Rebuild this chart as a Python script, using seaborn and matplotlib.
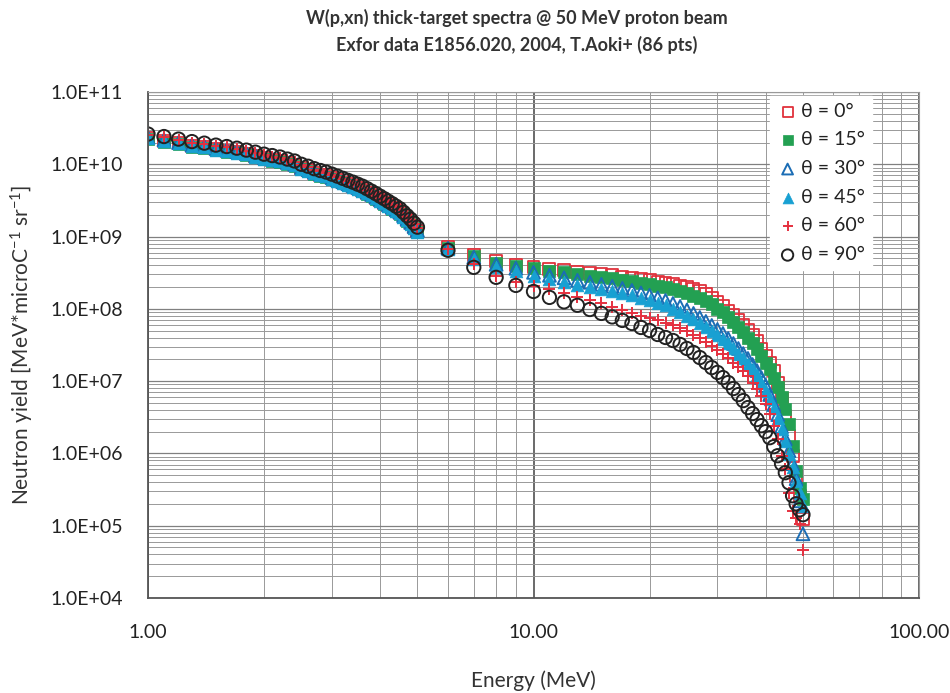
import matplotlib
matplotlib.use("Agg")
import matplotlib.pyplot as plt
import seaborn as sns
import pandas as pd
from matplotlib.ticker import FixedLocator, FixedFormatter, NullFormatter

# ---------------- data ----------------
energy_low = [1.0, 1.1, 1.2, 1.3, 1.4, 1.5, 1.6, 1.7, 1.8, 1.9,
              2.0, 2.1, 2.2, 2.3, 2.4, 2.5, 2.6, 2.7, 2.8, 2.9,
              3.0, 3.1, 3.2, 3.3, 3.4, 3.5, 3.6, 3.7, 3.8, 3.9,
              4.0, 4.1, 4.2, 4.3, 4.4, 4.5, 4.6, 4.7, 4.8, 4.9, 5.0]
energy_high = [6, 7, 8, 9, 10, 11, 12, 13, 14, 15, 16, 17, 18, 19, 20,
               21, 22, 23, 24, 25, 26, 27, 28, 29, 30, 31, 32, 33, 34, 35,
               36, 37, 38, 39, 40, 41, 42, 43, 44, 45, 46, 47, 48, 49, 50]

yield_0deg = [2.31e10, 2.13e10, 1.96e10, 1.81e10, 1.72e10, 1.62e10, 1.55e10, 1.47e10, 1.38e10, 1.29e10,
              1.21e10, 1.16e10, 1.11e10, 1.04e10, 9.8e9, 8.8e9, 8.3e9, 7.65e9, 7.2e9, 6.85e9,
              6.4e9, 6.0e9, 5.6e9, 5.3e9, 4.98e9, 4.66e9, 4.38e9, 4.05e9, 3.74e9, 3.45e9,
              3.19e9, 2.94e9, 2.71e9, 2.51e9, 2.31e9, 2.14e9, 1.91e9, 1.71e9, 1.53e9, 1.35e9, 1.19e9,
              7.11e8, 5.51e8, 4.55e8, 4.0e8, 3.75e8, 3.52e8, 3.41e8, 3.2e8, 3.1e8, 3.0e8,
              2.91e8, 2.77e8, 2.69e8, 2.6e8, 2.48e8, 2.36e8, 2.29e8, 2.18e8, 2.08e8, 1.98e8,
              1.89e8, 1.74e8, 1.59e8, 1.42e8, 1.25e8, 1.08e8, 9.37e7, 8.11e7, 6.92e7, 5.9e7,
              5.03e7, 4.29e7, 3.54e7, 2.83e7, 2.26e7, 1.81e7, 1.4e7, 9.56e6, 5.74e6, 3.34e6,
              1.76e6, 9.3e5, 4.92e5, 2.6e5, 1.25e5]
yield_15deg = [2.23e10, 2.06e10, 1.9e10, 1.75e10, 1.67e10, 1.56e10, 1.5e10, 1.42e10, 1.33e10, 1.25e10,
               1.17e10, 1.12e10, 1.07e10, 1.0e10, 9.4e9, 8.5e9, 8.0e9, 7.4e9, 6.97e9, 6.63e9,
               6.2e9, 5.82e9, 5.44e9, 5.1e9, 4.81e9, 4.5e9, 4.23e9, 3.91e9, 3.61e9, 3.33e9,
               3.08e9, 2.84e9, 2.62e9, 2.42e9, 2.24e9, 2.07e9, 1.84e9, 1.65e9, 1.48e9, 1.3e9, 1.15e9,
               6.88e8, 5.33e8, 4.33e8, 3.88e8, 3.64e8, 3.36e8, 3.2e8, 3.0e8, 2.86e8, 2.73e8,
               2.64e8, 2.52e8, 2.4e8, 2.29e8, 2.18e8, 2.08e8, 1.98e8, 1.86e8, 1.74e8, 1.64e8,
               1.51e8, 1.4e8, 1.27e8, 1.15e8, 1.01e8, 8.93e7, 7.61e7, 6.49e7, 5.53e7, 4.72e7,
               3.89e7, 3.32e7, 2.74e7, 2.26e7, 1.81e7, 1.45e7, 1.12e7, 8.42e6, 6.12e6, 4.17e6,
               2.58e6, 1.28e6, 5.77e5, 3.35e5, 2.36e5]
yield_30deg = [2.36e10, 2.18e10, 2.0e10, 1.85e10, 1.76e10, 1.66e10, 1.58e10, 1.5e10, 1.41e10, 1.32e10,
               1.24e10, 1.19e10, 1.13e10, 1.06e10, 1.0e10, 9.0e9, 8.46e9, 7.83e9, 7.38e9, 7.02e9,
               6.57e9, 6.17e9, 5.76e9, 5.4e9, 5.09e9, 4.77e9, 4.48e9, 4.14e9, 3.83e9, 3.53e9,
               3.26e9, 3.01e9, 2.77e9, 2.57e9, 2.37e9, 2.19e9, 1.95e9, 1.75e9, 1.57e9, 1.38e9, 1.22e9,
               6.88e8, 5.17e8, 4.13e8, 3.64e8, 3.2e8, 2.91e8, 2.69e8, 2.48e8, 2.33e8, 2.18e8,
               2.05e8, 1.92e8, 1.8e8, 1.66e8, 1.54e8, 1.42e8, 1.31e8, 1.19e8, 1.08e8, 9.67e7,
               8.65e7, 7.61e7, 6.7e7, 5.9e7, 5.19e7, 4.57e7, 3.89e7, 3.32e7, 2.83e7, 2.41e7,
               2.06e7, 1.7e7, 1.4e7, 1.12e7, 8.69e6, 6.52e6, 4.74e6, 3.44e6, 2.35e6, 1.6e6,
               1.09e6, 7.2e5, 4.47e5, 2.21e5, 7.72e4]
yield_45deg = [2.28e10, 2.11e10, 1.94e10, 1.79e10, 1.71e10, 1.6e10, 1.53e10, 1.45e10, 1.37e10, 1.28e10,
               1.2e10, 1.15e10, 1.1e10, 1.03e10, 9.7e9, 8.7e9, 8.2e9, 7.57e9, 7.13e9, 6.79e9,
               6.35e9, 5.96e9, 5.57e9, 5.22e9, 4.92e9, 4.61e9, 4.33e9, 4.0e9, 3.7e9, 3.41e9,
               3.15e9, 2.91e9, 2.68e9, 2.48e9, 2.29e9, 2.11e9, 1.89e9, 1.69e9, 1.51e9, 1.33e9, 1.17e9,
               6.67e8, 4.85e8, 3.75e8, 3.3e8, 2.82e8, 2.56e8, 2.33e8, 2.15e8, 1.98e8, 1.86e8,
               1.74e8, 1.64e8, 1.54e8, 1.42e8, 1.31e8, 1.21e8, 1.12e8, 1.01e8, 8.93e7, 7.99e7,
               7.14e7, 6.28e7, 5.53e7, 4.87e7, 4.29e7, 3.77e7, 3.32e7, 2.83e7, 2.41e7, 2.06e7,
               1.75e7, 1.45e7, 1.2e7, 9.56e6, 7.41e6, 5.74e6, 4.31e6, 3.13e6, 2.2e6, 1.5e6,
               9.9e5, 6.55e5, 4.19e5, 2.86e5, 1.89e5]
yield_60deg = [2.54e10, 2.35e10, 2.16e10, 2.0e10, 1.9e10, 1.78e10, 1.71e10, 1.62e10, 1.52e10, 1.43e10,
               1.34e10, 1.28e10, 1.22e10, 1.14e10, 1.08e10, 9.7e9, 9.1e9, 8.4e9, 7.95e9, 7.6e9,
               7.1e9, 6.65e9, 6.2e9, 5.8e9, 5.5e9, 5.15e9, 4.83e9, 4.46e9, 4.12e9, 3.8e9,
               3.51e9, 3.24e9, 2.99e9, 2.76e9, 2.55e9, 2.36e9, 2.1e9, 1.88e9, 1.69e9, 1.48e9, 1.31e9,
               6.67e8, 4.13e8, 2.82e8, 2.33e8, 2.05e8, 1.86e8, 1.64e8, 1.44e8, 1.31e8, 1.19e8,
               1.05e8, 9.5e7, 8.65e7, 7.86e7, 7.37e7, 6.92e7, 6.28e7, 5.9e7, 5.36e7, 4.87e7,
               4.29e7, 3.89e7, 3.43e7, 3.02e7, 2.66e7, 2.34e7, 2.06e7, 1.81e7, 1.59e7, 1.4e7,
               1.16e7, 9.56e6, 7.9e6, 6.32e6, 4.89e6, 3.56e6, 2.42e6, 1.6e6, 9.3e5, 6.15e5,
               2.86e5, 1.61e5, 1.29e5, 1.06e5, 4.63e4]
yield_90deg = [2.62e10, 2.42e10, 2.23e10, 2.06e10, 1.96e10, 1.84e10, 1.76e10, 1.67e10, 1.57e10, 1.47e10,
               1.38e10, 1.32e10, 1.26e10, 1.18e10, 1.11e10, 1.0e10, 9.4e9, 8.7e9, 8.2e9, 7.8e9,
               7.3e9, 6.85e9, 6.4e9, 6.0e9, 5.66e9, 5.3e9, 4.98e9, 4.6e9, 4.25e9, 3.92e9,
               3.62e9, 3.34e9, 3.08e9, 2.85e9, 2.63e9, 2.43e9, 2.17e9, 1.94e9, 1.74e9, 1.53e9, 1.35e9,
               6.46e8, 3.75e8, 2.73e8, 2.11e8, 1.74e8, 1.44e8, 1.25e8, 1.12e8, 9.8e7, 8.65e7,
               7.73e7, 6.92e7, 6.28e7, 5.53e7, 5.03e7, 4.42e7, 4.02e7, 3.65e7, 3.22e7, 2.83e7,
               2.49e7, 2.12e7, 1.81e7, 1.54e7, 1.32e7, 1.12e7, 9.56e6, 7.9e6, 6.52e6, 5.38e6,
               4.31e6, 3.56e6, 2.94e6, 2.42e6, 2.0e6, 1.65e6, 1.24e6, 9.3e5, 7.2e5, 5.41e5,
               3.93e5, 2.6e5, 2.01e5, 1.66e5, 1.42e5]

series_labels = ["θ = 0°", "θ = 15°", "θ = 30°", "θ = 45°", "θ = 60°", "θ = 90°"]
x_tick_values = [1, 10, 100]
x_tick_labels = ["1.00", "10.00", "100.00"]
y_tick_values = [1e4, 1e5, 1e6, 1e7, 1e8, 1e9, 1e10, 1e11]
y_tick_labels = ["1.0E+04", "1.0E+05", "1.0E+06", "1.0E+07",
                 "1.0E+08", "1.0E+09", "1.0E+10", "1.0E+11"]

energy = energy_low + energy_high
all_yields = [yield_0deg, yield_15deg, yield_30deg, yield_45deg, yield_60deg, yield_90deg]
df = pd.concat([pd.DataFrame({"Energy": energy, "Yield": y, "Angle": lab})
                for y, lab in zip(all_yields, series_labels)], ignore_index=True)

# ---------------- styling ----------------
sns.set_theme(style="white")
plt.rcParams["font.family"] = ["Lato", "DejaVu Sans"]
plt.rcParams["mathtext.fontset"] = "custom"
plt.rcParams["mathtext.rm"] = "Lato"
plt.rcParams["mathtext.it"] = "Lato"
plt.rcParams["mathtext.default"] = "regular"

styles = {
    "θ = 0°":  dict(marker="s", color="#e0313c", s=74, open=True, lw=1.3),
    "θ = 15°": dict(marker="s", color="#23a052", s=74, open=False, lw=0.5),
    "θ = 30°": dict(marker="^", color="#1b6db5", s=84, open=True, lw=1.4),
    "θ = 45°": dict(marker="^", color="#18a0d2", s=84, open=False, lw=0.5),
    "θ = 60°": dict(marker="+", color="#e5303f", s=72, open=False, lw=1.4),
    "θ = 90°": dict(marker="o", color="#222222", s=92, open=True, lw=1.4),
}

fig = plt.figure(figsize=(9.5, 6.93), dpi=100)
ax = fig.add_axes([148 / 950, 1 - 598 / 693, (919 - 148) / 950, (598 - 92) / 693])
ax.set_xscale("log")
ax.set_yscale("log")
ax.set_xlim(1, 100)
ax.set_ylim(1e4, 1e11)

# grid
ax.set_axisbelow(True)
ax.grid(which="minor", axis="both", color="#999999", linewidth=0.7)
ax.grid(which="major", axis="y", color="#808080", linewidth=0.9)
ax.grid(which="major", axis="x", color="#505050", linewidth=1.2)

for lab in series_labels:
    st = styles[lab]
    sub = df[df["Angle"] == lab]
    kw = dict(marker=st["marker"], color=st["color"], s=st["s"], linewidth=st["lw"], label=lab)
    if st["marker"] != "+":
        kw["edgecolor"] = st["color"]
    sns.scatterplot(data=sub, x="Energy", y="Yield", ax=ax, **kw)
    if st["open"]:
        ax.collections[-1].set_facecolor("none")

ax.xaxis.set_major_locator(FixedLocator(x_tick_values))
ax.xaxis.set_major_formatter(FixedFormatter(x_tick_labels))
ax.xaxis.set_minor_formatter(NullFormatter())
ax.yaxis.set_major_locator(FixedLocator(y_tick_values))
ax.yaxis.set_major_formatter(FixedFormatter(y_tick_labels))
ax.yaxis.set_minor_formatter(NullFormatter())
ax.tick_params(axis="x", which="major", length=0, pad=19, labelsize=14, labelcolor="#222222")
ax.tick_params(axis="y", which="major", length=0, pad=18, labelsize=14, labelcolor="#222222")
ax.tick_params(which="minor", length=0)

ax.set_xlabel("")
ax.set_ylabel("")
for side in ["left", "bottom"]:
    ax.spines[side].set_color("#555555")
    ax.spines[side].set_linewidth(1.3)
for side in ["top", "right"]:
    ax.spines[side].set_color("#999999")
    ax.spines[side].set_linewidth(0.8)

leg = ax.legend(loc="upper right", bbox_to_anchor=((872 - 148) / (919 - 148), (598 - 96) / (598 - 92)),
                frameon=True, facecolor="white", edgecolor="white", framealpha=1.0,
                fontsize=14, handletextpad=0.15, labelspacing=0.6, borderpad=0.35,
                handlelength=1.1, borderaxespad=0, fancybox=False, markerscale=0.85)
for t in leg.get_texts():
    t.set_color("#222222")

fig.text(517 / 950, 1 - 9 / 693,
         "W(p,xn) thick-target spectra @ 50 MeV proton beam\nExfor data E1856.020, 2004, T.Aoki+ (86 pts)",
         ha="center", va="top", fontsize=13, fontweight="bold", color="#333333", linespacing=1.55)
fig.text(533 / 950, 1 - 681 / 693, "Energy (MeV)", ha="center", va="center", fontsize=15, color="#333333")
fig.text(22 / 950, 1 - 345 / 693, "Neutron yield [MeV*microC$^{-1}$ sr$^{-1}$]",
         ha="center", va="center", rotation=90, fontsize=15, color="#333333")

fig.savefig("out.png", dpi=100, facecolor="white")
